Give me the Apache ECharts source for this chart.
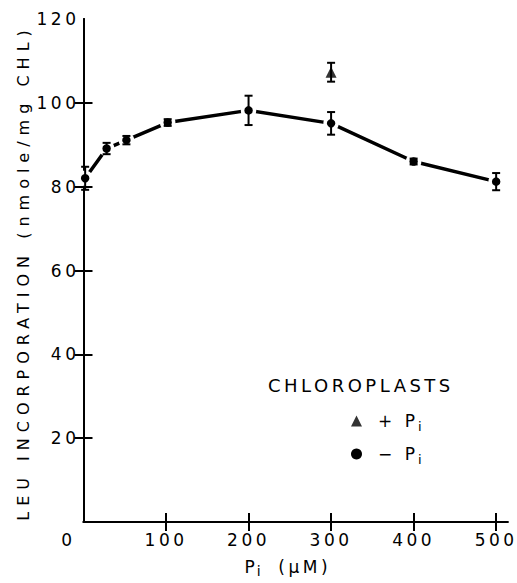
<!DOCTYPE html>
<html>
<head>
<meta charset="utf-8">
<script src="https://cdn.jsdelivr.net/npm/echarts@6/dist/echarts.min.js"></script>
<style>
  html, body { margin: 0; padding: 0; background: #fff; }
  #chart { width: 517px; height: 583px; }
  /* old-style spaced lettering */
  #chart text { letter-spacing: 3.5px; }
  #chart text[style*="16px"] { letter-spacing: 6px; }
</style>
</head>
<body>
<div id="chart"></div>
<script>
// Pi concentration (µM) and Leu incorporation (nmole/mg CHL)
const piConc = [2, 28, 52, 102, 200, 300, 400, 500];
const leuMinusPi = [82.0, 89.1, 91.1, 95.3, 98.2, 95.1, 86.0, 81.2];
const errMinusPi = [2.75, 1.35, 1.0, 0.8, 3.5, 2.7, 0.7, 2.05];

const plusPiConc = [300];
const leuPlusPi = [107.3];
const errPlusPi = [2.25];

const xTickLabels = [0, 100, 200, 300, 400, 500];
const xTickMarks = [100, 200, 300, 400, 500];
const yTickLabels = [20, 40, 60, 80, 100, 120];
const yTickMarks = [20, 40, 60, 80, 100];

const FONT = 'DejaVu Sans';
const INK = '#000';

const minusName = '\u2212 Pi';
const plusName = '+ Pi';

const minusPoints = piConc.map((x, i) => [x, leuMinusPi[i]]);
const plusPoints = plusPiConc.map((x, i) => [x, leuPlusPi[i]]);
const errorRows = piConc.map((x, i) => [x, leuMinusPi[i] - errMinusPi[i], leuMinusPi[i] + errMinusPi[i]])
  .concat(plusPiConc.map((x, i) => [x, leuPlusPi[i] - errPlusPi[i], leuPlusPi[i] + errPlusPi[i]]));

function renderErrorBar(params, api) {
  const x = api.value(0);
  const lo = api.coord([x, api.value(1)]);
  const hi = api.coord([x, api.value(2)]);
  const cap = 4;
  const style = { stroke: INK, lineWidth: 2 };
  return {
    type: 'group',
    children: [
      { type: 'line', shape: { x1: lo[0], y1: lo[1], x2: hi[0], y2: hi[1] }, style },
      { type: 'line', shape: { x1: lo[0] - cap, y1: lo[1], x2: lo[0] + cap, y2: lo[1] }, style },
      { type: 'line', shape: { x1: hi[0] - cap, y1: hi[1], x2: hi[0] + cap, y2: hi[1] }, style }
    ]
  };
}

const axisLineStyle = { lineStyle: { color: INK, width: 2 } };
const tickStyle = { lineStyle: { color: INK, width: 2 } };

const chart = echarts.init(document.getElementById('chart'), null, { renderer: 'svg' });

chart.setOption({
  animation: false,
  backgroundColor: '#fff',
  textStyle: { fontFamily: FONT, color: INK },
  title: {
    text: 'CHLOROPLASTS',
    left: 268,
    top: 376,
    padding: 0,
    textStyle: { fontFamily: FONT, fontSize: 18, fontWeight: 'normal', color: INK }
  },
  legend: {
    orient: 'vertical',
    left: 346,
    top: 407.5,
    itemWidth: 11,
    itemHeight: 11,
    itemGap: 13,
    selectedMode: false,
    data: [
      { name: plusName, icon: 'triangle', itemStyle: { color: INK, borderWidth: 0 } },
      { name: minusName, icon: 'circle', itemStyle: { color: INK, borderWidth: 0 } }
    ],
    formatter: name => (name === plusName ? '{a|+ P}{b|i}' : '{a|\u2212 P}{b|i}'),
    textStyle: {
      color: INK,
      rich: {
        a: { fontFamily: FONT, fontSize: 17, lineHeight: 23, color: INK, verticalAlign: 'middle', padding: [0, 0, 0, 11] },
        b: { fontFamily: FONT, fontSize: 13, color: INK, verticalAlign: 'bottom', padding: [0, 0, 0, 10] }
      }
    }
  },
  grid: { left: 83.5, right: 9.3, top: 19, bottom: 58.7 },
  xAxis: [
    {
      type: 'value',
      min: 0,
      max: 514,
      position: 'bottom',
      axisLine: axisLineStyle,
      axisTick: { inside: true, length: 9, customValues: xTickMarks, ...tickStyle },
      axisLabel: {
        customValues: xTickLabels,
        margin: 9,
        color: INK,
        fontFamily: FONT,
        fontSize: 17,
        formatter: v => (v === 0 ? '{z|0}' : String(v)),
        rich: { z: { fontFamily: FONT, fontSize: 17, color: INK, padding: [0, 30, 0, 0] } }
      },
      splitLine: { show: false },
      name: '{p|P}{s|i}{q|(\u03bcM)}',
      nameLocation: 'middle',
      nameGap: 33,
      nameTextStyle: {
        padding: [0, 21, 0, 0],
        rich: {
          p: { fontFamily: FONT, fontSize: 17, lineHeight: 23, color: INK, verticalAlign: 'middle' },
          s: { fontFamily: FONT, fontSize: 14, color: INK, verticalAlign: 'bottom', padding: [0, 0, 0, 2] },
          q: { fontFamily: FONT, fontSize: 17, lineHeight: 23, color: INK, verticalAlign: 'middle', padding: [0, 0, 0, 23] }
        }
      }
    },
    {
      type: 'value',
      min: 0,
      max: 514,
      position: 'top',
      axisLine: axisLineStyle,
      axisTick: { inside: true, length: 9, customValues: xTickMarks, ...tickStyle },
      axisLabel: { show: false },
      splitLine: { show: false }
    }
  ],
  yAxis: [
    {
      type: 'value',
      min: 0,
      max: 120,
      interval: 20,
      position: 'left',
      axisLine: axisLineStyle,
      axisTick: { inside: true, length: 9, customValues: yTickMarks, ...tickStyle },
      axisLabel: { customValues: yTickLabels, margin: 4, color: INK, fontFamily: FONT, fontSize: 17 },
      splitLine: { show: false },
      name: 'LEU INCORPORATION (nmole/mg CHL)',
      nameLocation: 'middle',
      nameGap: 52,
      nameTextStyle: { fontFamily: FONT, fontSize: 16, color: INK, padding: [0, 4, 0, 0] }
    },
    {
      type: 'value',
      min: 0,
      max: 120,
      interval: 20,
      position: 'right',
      axisLine: axisLineStyle,
      axisTick: { inside: true, length: 9, customValues: yTickMarks, ...tickStyle },
      axisLabel: { show: false },
      splitLine: { show: false }
    }
  ],
  series: [
    {
      name: minusName,
      type: 'line',
      xAxisIndex: 0,
      yAxisIndex: 0,
      data: minusPoints,
      symbol: 'circle',
      symbolSize: 12,
      showAllSymbol: true,
      lineStyle: { color: INK, width: 3.5 },
      itemStyle: { color: INK, borderColor: '#fff', borderWidth: 3.5 },
      z: 2
    },
    {
      name: plusName,
      type: 'scatter',
      xAxisIndex: 0,
      yAxisIndex: 0,
      data: plusPoints,
      symbol: 'triangle',
      symbolSize: 11,
      itemStyle: { color: INK },
      z: 2
    },
    {
      name: 'error',
      type: 'custom',
      xAxisIndex: 0,
      yAxisIndex: 0,
      data: errorRows,
      encode: { x: 0, y: [1, 2] },
      renderItem: renderErrorBar,
      z: 3,
      silent: true
    }
  ]
});
</script>
</body>
</html>
